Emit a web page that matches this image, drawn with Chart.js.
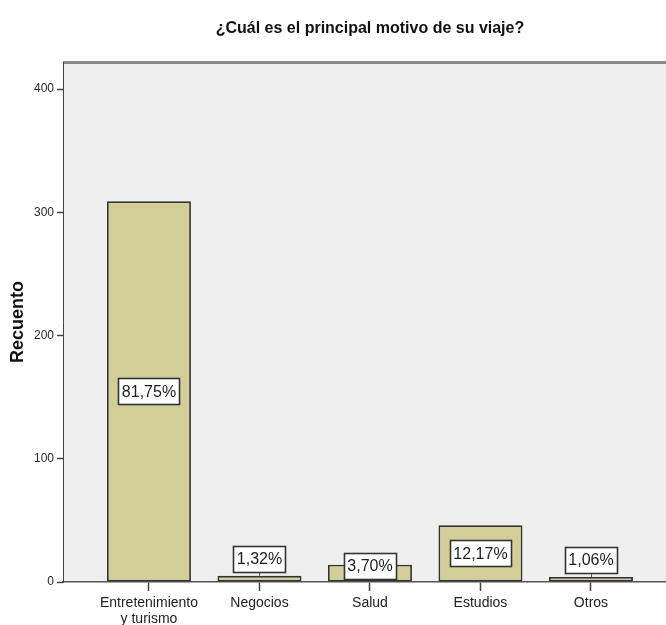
<!DOCTYPE html>
<html><head><meta charset="utf-8">
<script src="https://cdn.jsdelivr.net/npm/chart.js@4/dist/chart.umd.min.js"></script>
<style>html,body{margin:0;padding:0;background:#fff;overflow:hidden}#wrap{width:666px;height:625px;position:relative}</style>
</head><body><div id="wrap"><canvas id="c" width="666" height="625"></canvas></div>
<script>
const chartTitle = '¿Cuál es el principal motivo de su viaje?';
const categories = [['Entretenimiento', 'y turismo'], ['Negocios'], ['Salud'], ['Estudios'], ['Otros']];
const counts = [309, 5, 14, 46, 4];
const percentLabels = ['81,75%', '1,32%', '3,70%', '12,17%', '1,06%'];
const yTicks = [0, 100, 200, 300, 400];
const yAxisTitle = 'Recuento';

const FONT = '"Liberation Sans", Arial, Helvetica, sans-serif';

const plotBg = {
  id: 'plotBg',
  beforeDraw(chart) {
    const {ctx, chartArea: a} = chart;
    ctx.save();
    ctx.fillStyle = '#efefef';
    ctx.fillRect(a.left, a.top, chart.width - a.left, a.bottom - a.top);
    ctx.fillStyle = '#8a8a8a';
    ctx.fillRect(a.left, a.top - 1, chart.width - a.left, 3);
    ctx.restore();
  },
  afterDraw(chart) {
    const {ctx} = chart;
    const xs = chart.scales.x;
    ctx.save();
    ctx.font = 'bold 16px ' + FONT;
    ctx.fillStyle = '#111';
    ctx.textAlign = 'center';
    ctx.textBaseline = 'alphabetic';
    ctx.fillText(chartTitle, xs.getPixelForValue((categories.length - 1) / 2), 33);
    ctx.restore();
  }
};

const pctLabels = {
  id: 'pctLabels',
  afterDatasetsDraw(chart) {
    const {ctx} = chart;
    const meta = chart.getDatasetMeta(0);
    ctx.save();
    ctx.font = '16px ' + FONT;
    meta.data.forEach((bar, i) => {
      const top = bar.y, base = bar.base, h = base - top;
      const txt = percentLabels[i];
      const tw = ctx.measureText(txt).width;
      const bw = Math.round(tw + 7), bh = 26;
      let cy;
      if (h < 10) cy = top - 4 - bh / 2;
      else cy = Math.min((top + base) / 2, base - bh / 2 - 3);
      const x0 = Math.round(bar.x - bw / 2) + 0.5, y0 = Math.round(cy - bh / 2) + 0.5;
      if (h < 10) {
        ctx.strokeStyle = '#555';
        ctx.lineWidth = 1;
        ctx.beginPath();
        ctx.moveTo(Math.round(bar.x) + 0.5, y0 + bh);
        ctx.lineTo(Math.round(bar.x) + 0.5, top);
        ctx.stroke();
      }
      ctx.fillStyle = '#ffffff';
      ctx.fillRect(x0, y0, bw, bh);
      ctx.strokeStyle = '#333';
      ctx.lineWidth = 1.6;
      ctx.strokeRect(x0, y0, bw, bh);
      ctx.fillStyle = '#1e1e1e';
      ctx.textAlign = 'center';
      ctx.textBaseline = 'middle';
      ctx.fillText(txt, bar.x, cy + 1);
    });
    ctx.restore();
  }
};

new Chart(document.getElementById('c'), {
  type: 'bar',
  data: {
    datasets: [{
      data: counts.map((v, i) => ({x: i, y: v})),
      backgroundColor: '#d3ce97',
      borderColor: '#333333',
      borderWidth: 1.8,
      borderSkipped: false,
      barPercentage: 0.76,
      categoryPercentage: 1
    }]
  },
  options: {
    responsive: false,
    animation: false,
    devicePixelRatio: 1,
    layout: {padding: {top: 62, right: 0, left: 0, bottom: 0}},
    plugins: {legend: {display: false}, tooltip: {enabled: false}, title: {display: false}},
    scales: {
      x: {
        type: 'linear',
        position: 'bottom',
        bounds: 'data',
        offset: false,
        min: -0.778,
        max: 4.679,
        afterBuildTicks(s) { s.ticks = categories.map((c, i) => ({value: i})); },
        afterFit(s) { s.height = 43; },
        ticks: {
          callback: (v) => categories[v],
          autoSkip: false, maxRotation: 0, minRotation: 0,
          padding: 4,
          color: '#222',
          font: {family: FONT, size: 14, lineHeight: 1.15}
        },
        grid: {offset: false, drawOnChartArea: false, drawTicks: true, tickLength: 9, color: '#444', tickWidth: 1.5},
        border: {display: true, color: '#555', width: 1.5}
      },
      y: {
        type: 'linear',
        bounds: 'data',
        min: 0,
        max: 422,
        afterBuildTicks(s) { s.ticks = yTicks.map(v => ({value: v})); },
        afterFit(s) { s.width = 63; },
        ticks: {padding: 3, color: '#2a2a2a', font: {family: FONT, size: 12}},
        grid: {drawOnChartArea: false, drawTicks: true, tickLength: 6, color: '#444', tickWidth: 1.5},
        border: {display: true, color: '#444', width: 1},
        title: {display: true, text: yAxisTitle, color: '#111', font: {family: FONT, size: 18, weight: 'bold'}, padding: {top: 7, bottom: 0}}
      }
    }
  },
  plugins: [plotBg, pctLabels]
});
</script>
</body></html>
